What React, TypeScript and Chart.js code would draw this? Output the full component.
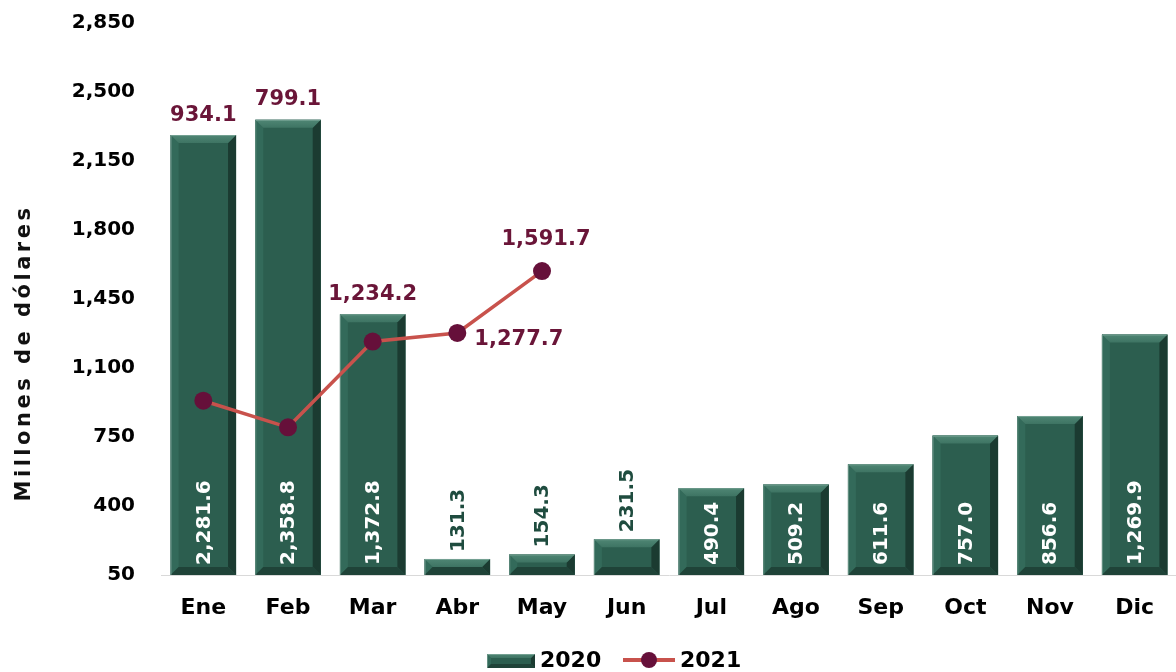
import React, { useEffect, useRef } from 'react';
import { Chart, registerables } from 'chart.js';

Chart.register(...registerables);

// ---------- data ----------
const months = ['Ene', 'Feb', 'Mar', 'Abr', 'May', 'Jun', 'Jul', 'Ago', 'Sep', 'Oct', 'Nov', 'Dic'];
const values2020 = [2281.6, 2358.8, 1372.8, 131.3, 154.3, 231.5, 490.4, 509.2, 611.6, 757.0, 856.6, 1269.9];
const values2021 = [934.1, 799.1, 1234.2, 1277.7, 1591.7];
const yTicks = [50, 400, 750, 1100, 1450, 1800, 2150, 2500, 2850];
const seriesNames = ['2020', '2021'];
const axisTitle = 'Millones de dólares';

// ---------- style ----------
const FONT = '"DejaVu Sans", "Noto Sans", sans-serif';
const FACE = '#2c5e4f';
const LINE_COLOR = '#c8524c';
const POINT_COLOR = '#66103a';
const LABEL_MAROON = '#6a1538';
const LABEL_GREEN = '#1f4c3f';
// label placement for 2021 points: above the 2020 bar, right of point, above point
const lineLabelPlacement = ['bar', 'bar', 'bar', 'right', 'above'];

const fmt = (v: number) =>
  v.toLocaleString('en-US', { minimumFractionDigits: 1, maximumFractionDigits: 1 });

function drawBevelBar(ctx: CanvasRenderingContext2D, l: number, t: number, r: number, b: number, bev: number) {
  const h = b - t;
  const w = r - l;
  const e = Math.max(0, Math.min(bev, h / 2, w / 2));
  ctx.save();
  ctx.fillStyle = FACE;
  ctx.fillRect(l, t, w, h);
  // left
  ctx.fillStyle = '#336a5a';
  ctx.beginPath();
  ctx.moveTo(l, t); ctx.lineTo(l + e, t + e); ctx.lineTo(l + e, b - e); ctx.lineTo(l, b); ctx.closePath(); ctx.fill();
  // right
  ctx.fillStyle = '#1b3b31';
  ctx.beginPath();
  ctx.moveTo(r, t); ctx.lineTo(r - e, t + e); ctx.lineTo(r - e, b - e); ctx.lineTo(r, b); ctx.closePath(); ctx.fill();
  // bottom
  ctx.fillStyle = '#1f4338';
  ctx.beginPath();
  ctx.moveTo(l, b); ctx.lineTo(l + e, b - e); ctx.lineTo(r - e, b - e); ctx.lineTo(r, b); ctx.closePath(); ctx.fill();
  // top
  const g = ctx.createLinearGradient(0, t, 0, t + e);
  g.addColorStop(0, '#4f8674');
  g.addColorStop(1, '#3e7463');
  ctx.fillStyle = g;
  ctx.beginPath();
  ctx.moveTo(l, t); ctx.lineTo(r, t); ctx.lineTo(r - e, t + e); ctx.lineTo(l + e, t + e); ctx.closePath(); ctx.fill();
  // light edge
  ctx.strokeStyle = 'rgba(190,215,205,0.35)';
  ctx.lineWidth = 1;
  ctx.beginPath();
  ctx.moveTo(l + 0.5, b); ctx.lineTo(l + 0.5, t + 0.5); ctx.lineTo(r - 0.5, t + 0.5);
  ctx.stroke();
  ctx.restore();
}

const decorPlugin = {
  id: 'decor',
  afterDatasetDraw(chart: any, args: any) {
    if (args.index !== 0) return;
    const ctx = chart.ctx as CanvasRenderingContext2D;
    const area = chart.chartArea;
    const meta = chart.getDatasetMeta(0);
    meta.data.forEach((bar: any) => {
      const w = bar.width;
      const base = Math.min(bar.base, area.bottom);
      drawBevelBar(ctx, bar.x - w / 2, bar.y, bar.x + w / 2, base, 8);
    });
  },
  afterDatasetsDraw(chart: any) {
    const ctx = chart.ctx as CanvasRenderingContext2D;
    const area = chart.chartArea;
    const barMeta = chart.getDatasetMeta(0);
    const lineMeta = chart.getDatasetMeta(1);
    ctx.save();
    // 2020 value labels
    ctx.font = `bold 20px ${FONT}`;
    barMeta.data.forEach((bar: any, i: number) => {
      const text = fmt(values2020[i]);
      const tw = ctx.measureText(text).width;
      const base = Math.min(bar.base, area.bottom);
      const hgt = base - bar.y;
      ctx.save();
      if (hgt > tw + 14) {
        ctx.translate(bar.x + 1, base - 10);
        ctx.fillStyle = '#ffffff';
      } else {
        ctx.translate(bar.x + 1, bar.y - 7);
        ctx.fillStyle = LABEL_GREEN;
      }
      ctx.rotate(-Math.PI / 2);
      ctx.textAlign = 'left';
      ctx.textBaseline = 'middle';
      ctx.fillText(text, 0, 0);
      ctx.restore();
    });
    // 2021 labels
    ctx.font = `bold 21px ${FONT}`;
    ctx.fillStyle = LABEL_MAROON;
    lineMeta.data.forEach((pt: any, i: number) => {
      const text = fmt(values2021[i]);
      const mode = lineLabelPlacement[i];
      if (mode === 'bar') {
        const bar = barMeta.data[i];
        ctx.textAlign = 'center';
        ctx.textBaseline = 'middle';
        ctx.fillText(text, bar.x, bar.y - 20);
      } else if (mode === 'right') {
        ctx.textAlign = 'left';
        ctx.textBaseline = 'middle';
        ctx.fillText(text, pt.x + 17, pt.y + 7);
      } else {
        ctx.textAlign = 'center';
        ctx.textBaseline = 'middle';
        ctx.fillText(text, pt.x + 4, pt.y - 32);
      }
    });
    ctx.restore();
  },
  afterDraw(chart: any) {
    const ctx = chart.ctx as CanvasRenderingContext2D;
    const area = chart.chartArea;
    ctx.save();
    // y-axis title
    ctx.font = `bold 21px ${FONT}`;
    (ctx as any).letterSpacing = '3.5px';
    ctx.fillStyle = '#111111';
    ctx.translate(25, (area.top + area.bottom) / 2 + 54);
    ctx.rotate(-Math.PI / 2);
    ctx.textAlign = 'center';
    ctx.textBaseline = 'middle';
    ctx.fillText(axisTitle, 0, 0);
    ctx.restore();

    // legend
    ctx.save();
    const ly = 661;
    const cx = 611;
    ctx.font = `bold 22px ${FONT}`;
    ctx.textBaseline = 'middle';
    ctx.textAlign = 'left';
    const sx = cx - 124;
    drawBevelBar(ctx, sx, ly - 7, sx + 48, ly + 7, 4);
    ctx.fillStyle = '#000000';
    ctx.fillText(seriesNames[0], sx + 53, ly);
    const lx = cx + 12;
    ctx.strokeStyle = LINE_COLOR;
    ctx.lineWidth = 4;
    ctx.beginPath();
    ctx.moveTo(lx, ly - 1);
    ctx.lineTo(lx + 52, ly - 1);
    ctx.stroke();
    ctx.fillStyle = POINT_COLOR;
    ctx.beginPath();
    ctx.arc(lx + 26, ly - 1, 8, 0, Math.PI * 2);
    ctx.fill();
    ctx.fillStyle = '#000000';
    ctx.fillText(seriesNames[1], lx + 57, ly);
    ctx.restore();
  },
};

export default function App() {
  const ref = useRef<HTMLCanvasElement | null>(null);
  useEffect(() => {
    if (!ref.current) return;
    Chart.defaults.font.family = FONT;
    const chart = new Chart(ref.current, {
      type: 'bar',
      data: {
        labels: months,
        datasets: [
          {
            type: 'bar',
            label: seriesNames[0],
            data: values2020,
            backgroundColor: FACE,
            base: yTicks[0],
            barPercentage: 0.773,
            categoryPercentage: 1,
            order: 1,
          } as any,
          {
            type: 'line',
            label: seriesNames[1],
            data: values2021,
            borderColor: LINE_COLOR,
            borderWidth: 3.5,
            pointRadius: 9,
            pointHoverRadius: 9,
            pointBackgroundColor: POINT_COLOR,
            pointBorderWidth: 0,
            tension: 0,
            order: 0,
          } as any,
        ],
      },
      options: {
        animation: false,
        responsive: true,
        maintainAspectRatio: false,
        layout: { padding: { top: 23, bottom: 37, left: 0, right: 0 } },
        plugins: {
          legend: { display: false },
          tooltip: { enabled: false },
        },
        scales: {
          x: {
            grid: { display: false, drawTicks: false },
            border: { display: true, color: '#d9d9d9', width: 1 },
            ticks: { color: '#000', font: { size: 22, weight: 'bold' }, padding: 20 },
            afterFit: (s: any) => { s.height = 60; s.paddingLeft = 0; s.paddingRight = 0; },
          },
          y: {
            min: yTicks[0],
            max: yTicks[yTicks.length - 1],
            grid: { display: false, drawTicks: false },
            border: { display: false },
            afterBuildTicks: (s: any) => { s.ticks = yTicks.map((v) => ({ value: v })); },
            ticks: {
              color: '#000',
              font: { size: 20, weight: 'bold' },
              padding: 26,
              callback: (v: any) => Number(v).toLocaleString('en-US'),
            },
            afterFit: (s: any) => { s.width = 161; s.paddingTop = 0; s.paddingBottom = 0; },
          },
        },
      },
      plugins: [decorPlugin],
    });
    return () => chart.destroy();
  }, []);
  return (
    <div style={{ position: 'fixed', left: 0, top: 0, width: 1176, height: 672, overflow: 'hidden', background: '#fff' }}>
      <div style={{ position: 'relative', width: 1186, height: 672 }}>
        <canvas ref={ref} />
      </div>
    </div>
  );
}
